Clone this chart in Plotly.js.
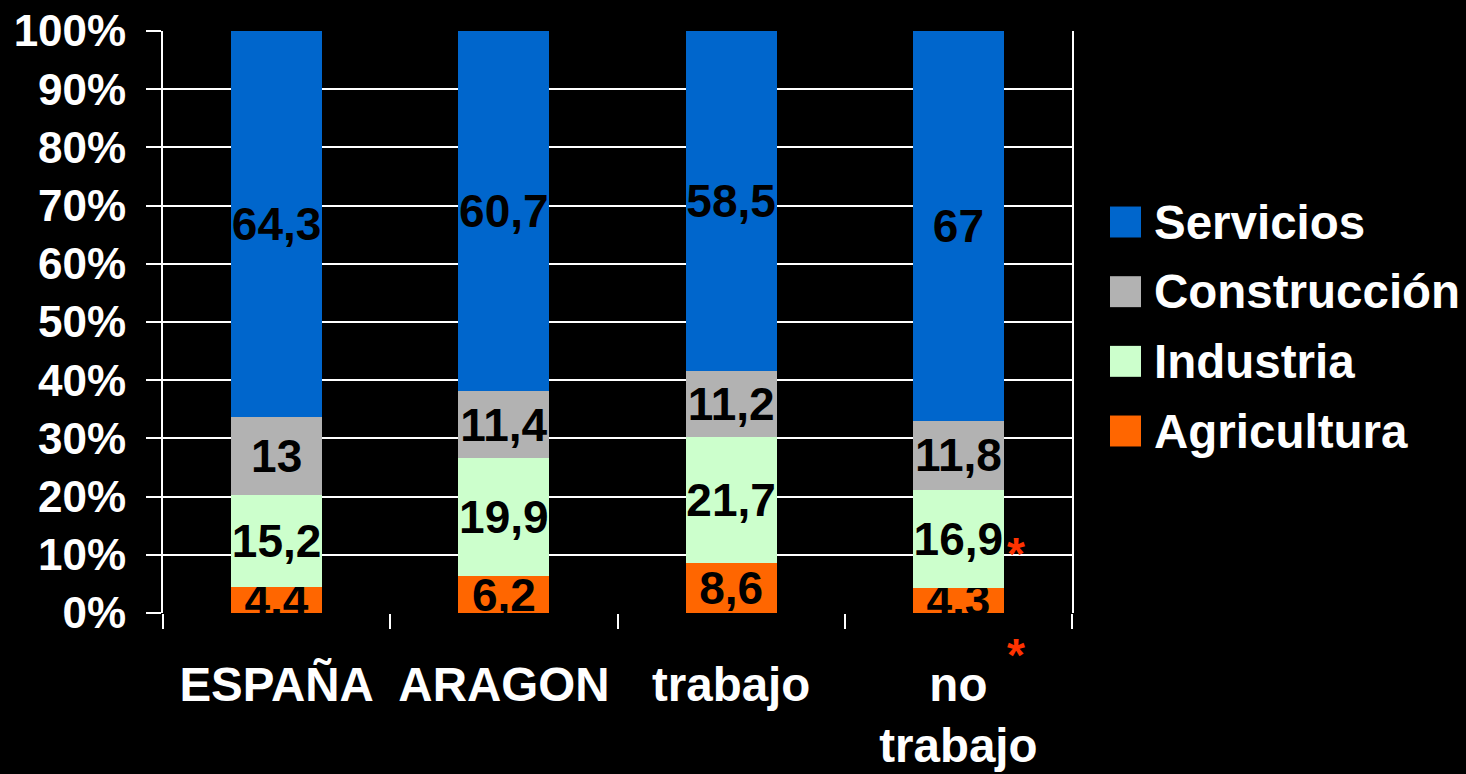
<!DOCTYPE html>
<html>
<head>
<meta charset="utf-8">
<script src="https://cdn.plot.ly/plotly-3.0.1.min.js"></script>
<style>
  html, body { margin: 0; padding: 0; background: #000; }
  #chart { width: 1466px; height: 774px; }
</style>
</head>
<body>
<div id="chart"></div>
<script>
// categories on the x axis
const categories = ['ESPAÑA', 'ARAGON', 'trabajo', 'no<br>trabajo'];

// sector shares per category (stack order bottom -> top)
const agricultura = [4.4, 6.2, 8.6, 4.3];
const industria = [15.2, 19.9, 21.7, 16.9];
const construccion = [13, 11.4, 11.2, 11.8];
const servicios = [64.3, 60.7, 58.5, 67];

const seriesNames = ['Agricultura', 'Industria', 'Construcción', 'Servicios'];
const seriesValues = [agricultura, industria, construccion, servicios];
const seriesColors = ['#ff6600', '#ccffcc', '#b2b2b2', '#0066cc'];

const yTickVals = [0, 10, 20, 30, 40, 50, 60, 70, 80, 90, 100];
const yTickText = yTickVals.map(v => v + '%');

const FONT = '"Liberation Sans", Arial, sans-serif';

// comma as decimal mark, like the original
const fmt = v => String(v).replace('.', ',');

const traces = seriesNames.map((name, i) => ({
    type: 'bar',
    name: name,
    x: categories,
    y: seriesValues[i],
    marker: { color: seriesColors[i], line: { width: 0 } },
    text: seriesValues[i].map(fmt),
    textposition: 'inside',
    insidetextanchor: 'middle',
    textangle: 0,
    constraintext: 'none',
    textfont: { family: FONT, size: 46, color: '#000', weight: 700 },
    cliponaxis: false,
    hoverinfo: 'skip',
    showlegend: false
}));

// hand-built legend so the swatches match the big squares of the original
const shapes = [];
const annotations = [];
const legendOrder = [3, 2, 1, 0];
legendOrder.forEach((s, i) => {
    const yc = 0.6718 - i * 0.1197;
    shapes.push({
        type: 'rect', xref: 'paper', yref: 'paper',
        x0: 1.0418, x1: 1.0759, y0: yc - 0.0266, y1: yc + 0.0266,
        fillcolor: seriesColors[s], line: { width: 0 }
    });
    annotations.push({
        xref: 'paper', yref: 'paper', x: 1.0880, y: yc,
        xanchor: 'left', yanchor: 'middle', showarrow: false,
        text: seriesNames[s],
        font: { family: FONT, size: 47.5, color: '#fff', weight: 700 }
    });
});

// red asterisks next to the last bar
[0.102, -0.072].forEach(yy => {
    annotations.push({
        xref: 'paper', yref: 'paper', x: 0.938, y: yy,
        xanchor: 'center', yanchor: 'middle', showarrow: false,
        text: '*',
        font: { family: FONT, size: 46, color: '#ff3300', weight: 700 }
    });
});

const layout = {
    width: 1466,
    height: 774,
    paper_bgcolor: '#000',
    plot_bgcolor: '#000',
    margin: { l: 163, r: 394, t: 31, b: 161 },
    barmode: 'stack',
    barnorm: 'percent',
    bargap: 0.6,
    showlegend: false,
    font: { family: FONT, color: '#fff', size: 46, weight: 700 },
    xaxis: {
        type: 'category',
        tickson: 'boundaries',
        ticks: 'outside',
        ticklen: 15,
        tickwidth: 2,
        tickcolor: '#fff',
        showline: false,
        showgrid: false,
        ticklabelstandoff: 39,
        tickfont: { family: FONT, size: 47.5, color: '#fff', weight: 700 }
    },
    yaxis: {
        range: [0, 100],
        tickvals: yTickVals,
        ticktext: yTickText,
        ticks: 'outside',
        ticklen: 15,
        tickwidth: 2,
        tickcolor: '#fff',
        showgrid: true,
        gridcolor: '#fff',
        gridwidth: 2,
        showline: true,
        linecolor: '#fff',
        linewidth: 2,
        mirror: true,
        zeroline: false,
        ticklabelstandoff: 11,
        tickfont: { family: FONT, size: 44, color: '#fff', weight: 700 }
    },
    shapes: shapes,
    annotations: annotations
};

Plotly.newPlot('chart', traces, layout, { staticPlot: true, displayModeBar: false });
</script>
</body>
</html>
